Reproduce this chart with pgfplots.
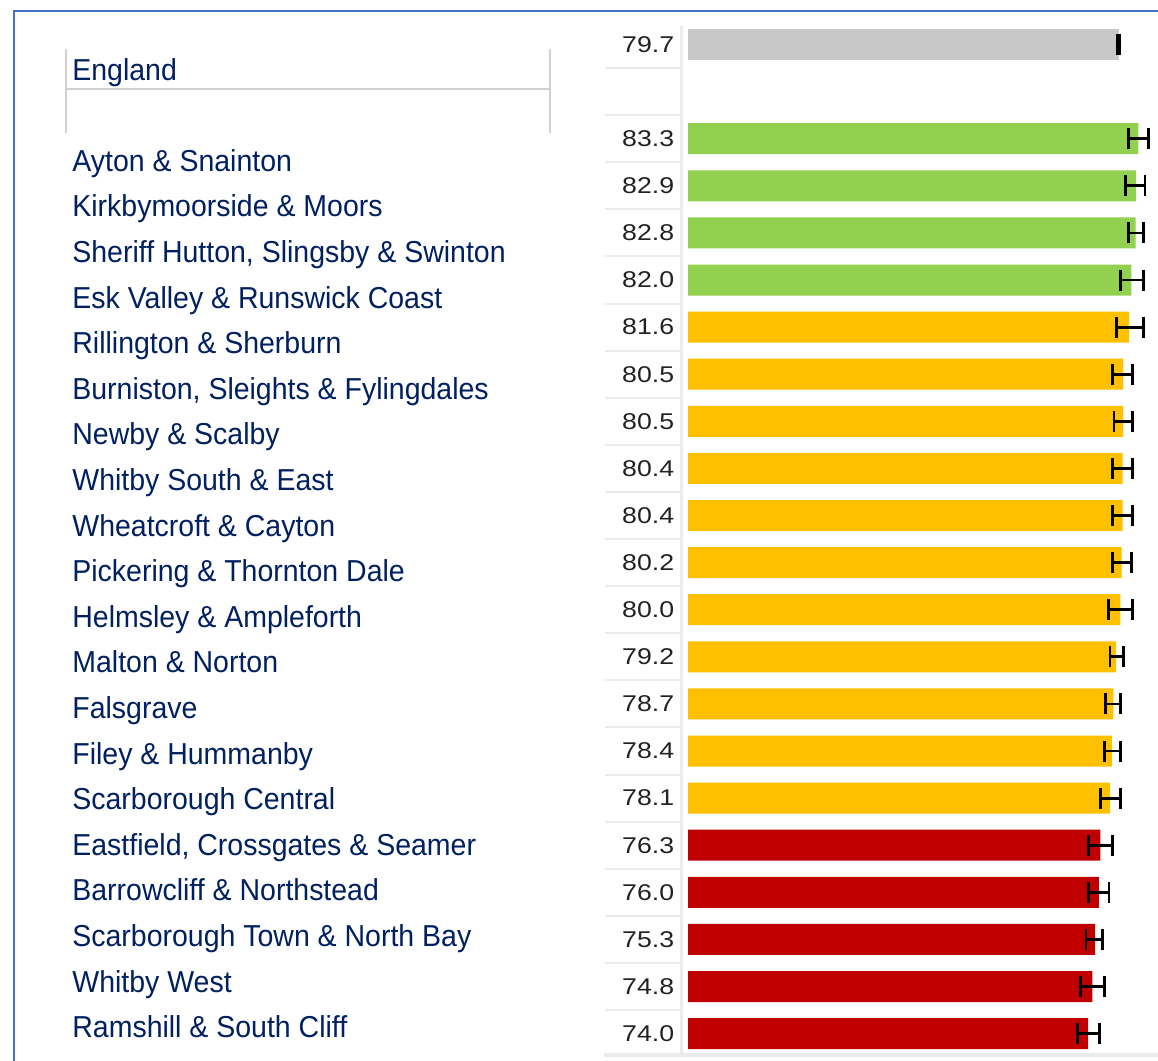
\documentclass[border=0pt]{standalone}
\usepackage{pgfplots}
\pgfplotsset{compat=1.18}
\usepackage{fontspec}
\setmainfont{Liberation Sans}
\newfontfamily\namefont[FakeStretch=0.94]{Liberation Sans}
\newfontfamily\valfont[FakeStretch=1.17]{Liberation Sans}
\definecolor{frameblue}{HTML}{4472C4}
\definecolor{namecol}{HTML}{002060}
\definecolor{valcol}{HTML}{222222}
\definecolor{sepcol}{HTML}{EBEBEB}
\definecolor{boxcol}{HTML}{D0D0D0}
\definecolor{cgreen}{HTML}{92D050}
\definecolor{camber}{HTML}{FFC000}
\definecolor{cred}{HTML}{C00000}
\definecolor{cgray}{HTML}{C8C8C8}
\begin{document}
\begin{tikzpicture}
\begin{scope}[x=0.5pt,y=-0.5pt]
\fill[white] (0,0) rectangle (1158,1061);
% frame
\draw[frameblue, line width=1.3pt] (14,1061) -- (14,11) -- (1158,11);
% names header box
\draw[boxcol, line width=0.8pt] (66,49) -- (66,133);
\draw[boxcol, line width=0.8pt] (550,49) -- (550,133);
\draw[boxcol, line width=0.8pt] (66,89) -- (550,89);
% value column separators
\draw[sepcol, line width=1.5pt] (681.5,26) -- (681.5,1053);
\foreach \k in {0,...,20} {
  \draw[sepcol, line width=1pt] (604.5,{44.5+47.1*(\k+0.5)}) -- (680,{44.5+47.1*(\k+0.5)});
}
\draw[sepcol, line width=2pt] (604,1055) -- (1158,1055);
% names
\node[anchor=base west, inner sep=0pt, text=namecol, font=\namefont\fontsize{15.15pt}{18pt}\selectfont] at (72,80) {England};
\foreach \nm [count=\i from 2] in {{Ayton \& Snainton},{Kirkbymoorside \& Moors},{Sheriff Hutton, Slingsby \& Swinton},{Esk Valley \& Runswick Coast},{Rillington \& Sherburn},{Burniston, Sleights \& Fylingdales},{Newby \& Scalby},{Whitby South \& East},{Wheatcroft \& Cayton},{Pickering \& Thornton Dale},{Helmsley \& Ampleforth},{Malton \& Norton},{Falsgrave},{Filey \& Hummanby},{Scarborough Central},{Eastfield, Crossgates \& Seamer},{Barrowcliff \& Northstead},{Scarborough Town \& North Bay},{Whitby West},{Ramshill \& South Cliff}} {
  \node[anchor=base west, inner sep=0pt, text=namecol, font=\namefont\fontsize{15.15pt}{18pt}\selectfont] at (72,{80+45.6*\i}) {\nm};
}
\end{scope}
\begin{axis}[
  at={(344pt,-10.475pt)}, anchor=north west,
  scale only axis, width=235pt, height=518.1pt,
  xmin=0, xmax=86.94, ymin=-0.5, ymax=21.5, y dir=reverse,
  axis line style={draw=none},
  xtick=\empty,
  ytick={0,...,21},
  yticklabels={79.7,{},83.3,82.9,82.8,82.0,81.6,80.5,80.5,80.4,80.4,80.2,80.0,79.2,78.7,78.4,78.1,76.3,76.0,75.3,74.8,74.0},
  major tick length=0pt,
  yticklabel style={font=\valfont\fontsize{11.4pt}{13pt}\selectfont, text=valcol, anchor=east, inner sep=0pt, xshift=-6.75pt},
  clip=false,
  xbar, bar width=15.5pt, bar shift=0pt,
]
\pgfplotsset{ebar/.style={error bars/.cd, x dir=both, x explicit,
   error mark=|,
   error bar style={draw=black, line width=1.4pt},
   error mark options={draw=black, line width=1.4pt, mark size=5.25pt}}}
\addplot[xbar, bar shift=0pt, fill=cgray, draw=none, ebar] coordinates {
  (79.7,0) += (0.2,0) -= (0.2,0)
};
\addplot[xbar, bar shift=0pt, fill=cgreen, draw=none, ebar] coordinates {
  (83.3,2) += (1.85,0) -= (1.85,0)
  (82.9,3) += (1.64,0) -= (1.93,0)
  (82.8,4) += (1.42,0) -= (1.35,0)
  (82.0,5) += (2.22,0) -= (2.03,0)
};
\addplot[xbar, bar shift=0pt, fill=camber, draw=none, ebar] coordinates {
  (81.6,6) += (2.62,0) -= (2.30,0)
  (80.5,7) += (1.69,0) -= (2.01,0)
  (80.5,8) += (1.69,0) -= (1.70,0)
  (80.4,9) += (1.79,0) -= (1.91,0)
  (80.4,10) += (1.79,0) -= (1.91,0)
  (80.2,11) += (1.80,0) -= (1.71,0)
  (80.0,12) += (2.19,0) -= (2.18,0)
  (79.2,13) += (1.32,0) -= (1.14,0)
  (78.7,14) += (1.34,0) -= (1.44,0)
  (78.4,15) += (1.64,0) -= (1.39,0)
  (78.1,16) += (1.94,0) -= (1.76,0)
};
\addplot[xbar, bar shift=0pt, fill=cred, draw=none, ebar] coordinates {
  (76.3,17) += (2.26,0) -= (2.25,0)
  (76.0,18) += (1.88,0) -= (1.95,0)
  (75.3,19) += (1.41,0) -= (1.68,0)
  (74.8,20) += (2.21,0) -= (2.23,0)
  (74.0,21) += (2.08,0) -= (1.98,0)
};
\end{axis}
\pgfresetboundingbox
\path[use as bounding box] (0pt,0pt) rectangle (579pt,-530.5pt);
\end{tikzpicture}
\end{document}
